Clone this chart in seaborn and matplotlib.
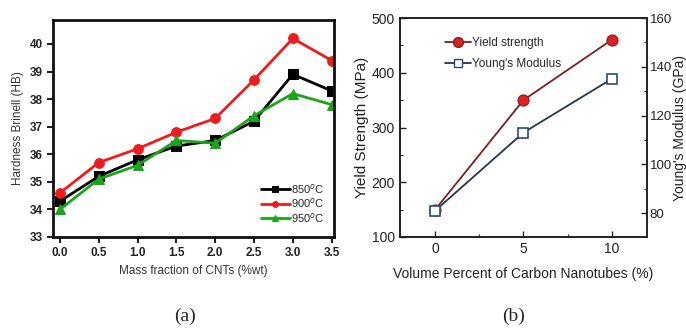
import matplotlib
matplotlib.use("Agg")
import matplotlib.pyplot as plt
import numpy as np
import pandas as pd
import seaborn as sns
from matplotlib.lines import Line2D
from matplotlib.ticker import MultipleLocator

# ---- data: panel (a) hardness ----
mass_frac = [0.0, 0.5, 1.0, 1.5, 2.0, 2.5, 3.0, 3.5]
hb_850 = [34.3, 35.2, 35.8, 36.3, 36.5, 37.2, 38.9, 38.3]
hb_900 = [34.6, 35.7, 36.2, 36.8, 37.3, 38.7, 40.2, 39.4]
hb_950 = [34.0, 35.1, 35.6, 36.5, 36.4, 37.4, 38.2, 37.8]
temp_labels = ["850$^{o}$C", "900$^{o}$C", "950$^{o}$C"]

# ---- data: panel (b) yield strength / modulus ----
vol_pct = [0, 5, 10]
yield_mpa = [150, 350, 460]
modulus_gpa = [81, 113, 135]

sns.set_theme(style="white")
plt.rcParams["font.family"] = ["Liberation Sans", "DejaVu Sans"]
plt.rcParams["mathtext.fontset"] = "custom"
plt.rcParams["mathtext.rm"] = "Liberation Sans"

fig = plt.figure(figsize=(6.86, 3.31), dpi=100)
ax1 = fig.add_axes([0.0773, 0.284, 0.4096, 0.6556])
ax2 = fig.add_axes([0.583, 0.284, 0.360, 0.6616])

# ---------- panel (a) ----------
df_a = pd.DataFrame({
    "x": mass_frac * 3,
    "hb": hb_850 + hb_900 + hb_950,
    "temp": np.repeat(temp_labels, len(mass_frac)),
})
colors_a = ["#000000", "#ee1c1c", "#1aa51a"]
markers_a = ["s", "o", "^"]
for lab, col, mk in zip(temp_labels, colors_a, markers_a):
    sub = df_a[df_a["temp"] == lab]
    sns.lineplot(data=sub, x="x", y="hb", ax=ax1, color=col, marker=mk,
                 markersize=7, markeredgecolor=col, linewidth=2, label=lab)

ax1.set_xlim(-0.09, 3.53)
ax1.set_ylim(33, 40.87)
ax1.set_xticks(mass_frac)
ax1.set_xticklabels([f"{v:.1f}" for v in mass_frac])
ax1.set_yticks(range(33, 41))
ax1.tick_params(axis="both", direction="out", length=4, width=1.5,
                labelsize=8.5, colors="#222222", bottom=True, left=True)
for t in ax1.get_xticklabels() + ax1.get_yticklabels():
    t.set_fontweight("bold")
for sp in ax1.spines.values():
    sp.set_linewidth(2)
    sp.set_color("#111111")
ax1.set_xlabel("Mass fraction of CNTs (%wt)", fontsize=8.5, color="#333333", labelpad=4)
ax1.set_ylabel("Hardness Brinell (HB)", fontsize=8.5, color="#333333", labelpad=4)
ax1.legend(loc="lower right", frameon=False, fontsize=8, handlelength=2.6,
           handletextpad=0.1, labelspacing=0.05, markerscale=0.6,
           bbox_to_anchor=(1.0, 0.01))

# ---------- panel (b) ----------
ax2b = ax2.twinx()
sns.lineplot(x=vol_pct, y=yield_mpa, ax=ax2, color="#7a1f1f", linewidth=1.3,
             marker="o", markersize=8, markerfacecolor="#e02020",
             markeredgecolor="#7a1f1f", legend=False)
sns.lineplot(x=vol_pct, y=modulus_gpa, ax=ax2b, color="#26354a", linewidth=1.3,
             marker="s", markersize=7, markerfacecolor="white",
             markeredgecolor="#2c4a78", markeredgewidth=1.2, legend=False)

ax2.set_xlim(-2, 12)
ax2.set_ylim(100, 500)
ax2b.set_ylim(70.2, 160)
ax2.set_xticks(vol_pct)
ax2.xaxis.set_minor_locator(MultipleLocator(2.5))
ax2.set_yticks([100, 200, 300, 400, 500])
ax2.yaxis.set_minor_locator(MultipleLocator(50))
ax2b.set_yticks([80, 100, 120, 140, 160])
ax2b.yaxis.set_minor_locator(MultipleLocator(10))
for a in (ax2, ax2b):
    a.tick_params(axis="both", which="major", direction="in", length=4, width=1,
                  labelsize=10, colors="#222222")
    a.tick_params(axis="both", which="minor", direction="in", length=2, width=0.8)
ax2.tick_params(bottom=True, left=True, which="both")
ax2b.tick_params(right=True, which="both")
ax2b.tick_params(axis="y", labelsize=9.5, pad=2)
for a in (ax2, ax2b):
    for sp in a.spines.values():
        sp.set_linewidth(1.2)
        sp.set_color("#222222")
ax2.set_xlabel("Volume Percent of Carbon Nanotubes (%)", fontsize=10, color="#222222", labelpad=8)
ax2.set_ylabel("Yield Strength (MPa)", fontsize=11, color="#222222", labelpad=2)
ax2b.set_ylabel("Young's Modulus (GPa)", fontsize=10, color="#222222", labelpad=1)
ax2b.grid(False)

handles_b = [
    Line2D([], [], color="#7a1f1f", linewidth=1.3, marker="o", markersize=7,
           markerfacecolor="#e02020", markeredgecolor="#7a1f1f"),
    Line2D([], [], color="#26354a", linewidth=1.3, marker="s", markersize=6,
           markerfacecolor="white", markeredgecolor="#2c4a78"),
]
ax2.legend(handles_b, ["Yield strength", "Young's Modulus"], loc="upper left",
           frameon=False, fontsize=8.5, handlelength=2.2, handletextpad=0.1,
           labelspacing=0.7, bbox_to_anchor=(0.14, 0.96))

# panel letters
fig.text(0.27, 0.03, "(a)", fontsize=14, family=["Liberation Serif", "DejaVu Serif"], ha="center")
fig.text(0.748, 0.03, "(b)", fontsize=14, family=["Liberation Serif", "DejaVu Serif"], ha="center")

fig.savefig("out.png", dpi=100)
